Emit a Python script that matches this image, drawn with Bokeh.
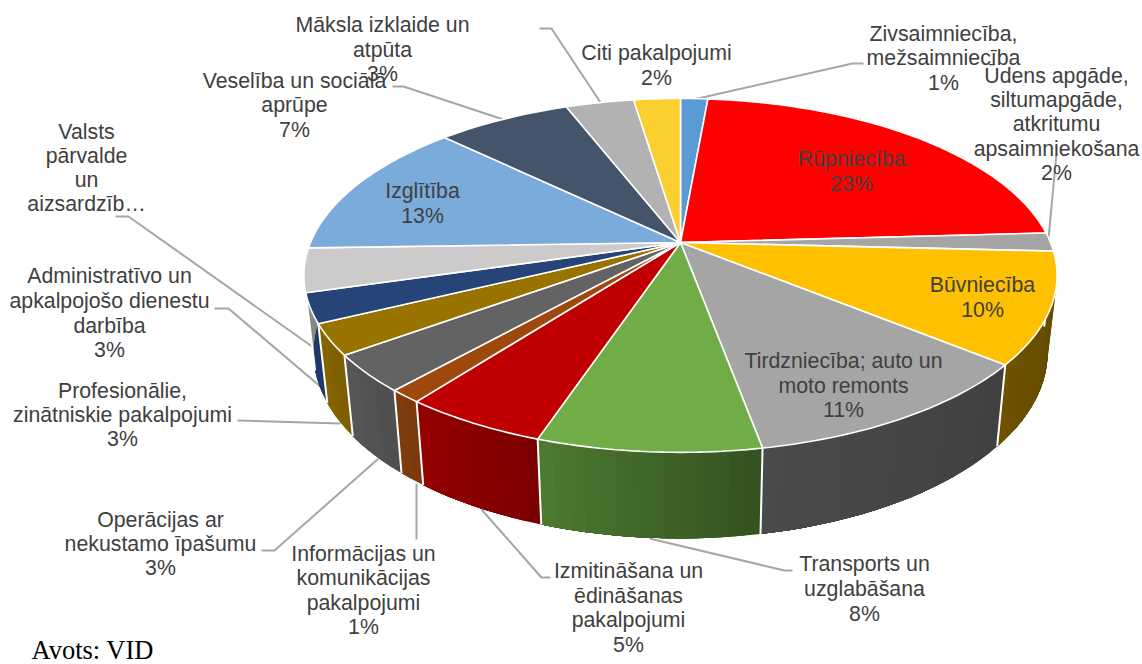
import math
from bokeh.plotting import figure
from bokeh.models import Range1d
from bokeh.core.properties import value
from bokeh.embed import file_html
from bokeh.resources import INLINE

# slice shares (clockwise from twelve o'clock)
categories = ["Zivsaimniecība, mežsaimniecība", "Rūpniecība", "Ūdens apgāde", "Būvniecība", "Tirdzniecība",
              "Transports", "Izmitināšana", "Informācijas", "Operācijas", "Profesionālie",
              "Administratīvo", "Valsts pārvalde", "Izglītība", "Veselība", "Māksla", "Citi"]
shares = [1.4, 22.7, 1.7, 10.1, 11.2, 8.05, 5.25, 1.2, 3.4, 2.8, 2.7, 4.0, 12.7, 6.9, 3.5, 2.4]
top_colors = ["#5B9BD5", "#FF0000", "#A5A5A5", "#FFC000", "#A5A5A5", "#70AD47", "#C00000", "#9E480E",
              "#636363", "#997300", "#264478", "#CCCACA", "#7AABDB", "#44546A", "#B2B2B2", "#FBCF30"]
side_left = ["#3a6a96", "#990000", "#636363", "#6e5200", "#4a4a4a", "#4e7a32", "#950000", "#803c0c",
             "#575757", "#866600", "#1f3f70", "#888888", "#4a6a90", "#303a4a", "#777777", "#9a8020"]
side_right = ["#3a6a96", "#880000", "#585858", "#5e4600", "#404040", "#33521f", "#7c0000", "#7a390b",
              "#4e4e4e", "#7c5e00", "#1c3966", "#888888", "#4a6a90", "#303a4a", "#777777", "#9a8020"]

# labels: (centre x, [(line, y), ...])
labels = [
    (943, [("Zivsaimniecība,", 33), ("mežsaimniecība", 57), ("1%", 82)]),
    (1056, [("Ūdens apgāde,", 75), ("siltumapgāde,", 99), ("atkritumu", 123), ("apsaimniekošana", 148), ("2%", 172)]),
    (656, [("Citi pakalpojumi", 52), ("2%", 77)]),
    (382, [("Māksla izklaide un", 24), ("atpūta", 49), ("3%", 73)]),
    (294, [("Veselība un sociālā", 80), ("aprūpe", 104), ("7%", 129)]),
    (86, [("Valsts", 131), ("pārvalde", 155), ("un", 179), ("aizsardzīb…", 203)]),
    (109, [("Administratīvo un", 275), ("apkalpojošo dienestu", 300), ("darbība", 325), ("3%", 349)]),
    (122, [("Profesionālie,", 390), ("zinātniskie pakalpojumi", 414), ("3%", 438)]),
    (160, [("Operācijas ar", 519), ("nekustamo īpašumu", 543), ("3%", 567)]),
    (363, [("Informācijas un", 553), ("komunikācijas", 577), ("pakalpojumi", 602), ("1%", 626)]),
    (628, [("Izmitināšana un", 570), ("ēdināšanas", 595), ("pakalpojumi", 619), ("5%", 644)]),
    (864, [("Transports un", 563), ("uzglabāšana", 588), ("8%", 613)]),
    (851, [("Rūpniecība", 158), ("23%", 183)]),
    (982, [("Būvniecība", 284), ("10%", 309)]),
    (843, [("Tirdzniecība; auto un", 360), ("moto remonts", 385), ("11%", 409)]),
    (422, [("Izglītība", 190), ("13%", 215)]),
]
leaders = [
    ([693, 852, 863], [99, 63, 63]),
    ([1048, 1056], [238, 153]),
    ([539, 551, 600], [28, 28, 102]),
    ([392, 403, 503], [86, 86, 119]),
    ([115, 128, 313], [216, 216, 347]),
    ([214, 228, 321], [308, 308, 387]),
    ([237, 340], [420, 423]),
    ([261, 274, 378], [550, 550, 458]),
    ([416, 416], [483, 539]),
    ([481, 541, 550], [509, 577, 577]),
    ([649, 784, 792], [538, 570, 570]),
]

CX, CY, A, B, K = 680.0, 242.0, 370.0, 170.8, 0.186
DEPTH, XS, YS = 75.0, 0.975, 1.053


def top(theta):
    u, v = math.sin(theta), -math.cos(theta)
    w = 1 - K * v
    return CX + A * u / w, CY + B * v / w


def bottom(theta):
    u, v = math.sin(theta), -math.cos(theta)
    w = 1 - K * v
    return CX + XS * A * u / w, CY + DEPTH + YS * B * v / w


def mix(c1, c2, t):
    a = [int(c1[i:i + 2], 16) for i in (1, 3, 5)]
    b = [int(c2[i:i + 2], 16) for i in (1, 3, 5)]
    return "#%02x%02x%02x" % tuple(round(p + (q - p) * t) for p, q in zip(a, b))


p = figure(width=1142, height=664, output_backend="svg", toolbar_location=None,
           x_range=Range1d(0, 1142), y_range=Range1d(664, 0), min_border=0,
           outline_line_color=None, background_fill_color="white")
p.xaxis.visible = False
p.yaxis.visible = False
p.grid.visible = False

p.multi_line([l[0] for l in leaders], [l[1] for l in leaders], line_color="#A6A6A6", line_width=2)

total = sum(shares)
edges = [0.0]
for s in shares:
    edges.append(edges[-1] + s / total * 2 * math.pi)

# sides: each band reaches the slice's far end, so later bands overpaint it without seams
sx, sy, sc = [], [], []
dx, dy = [], []
for i in range(len(shares)):
    t0, t1 = edges[i], edges[i + 1]
    n = max(1, int((t1 - t0) / math.radians(2.0)))
    for j in range(n):
        a0 = t0 + (t1 - t0) * j / n
        if -math.cos(a0) < -0.12 and -math.cos(t1) < -0.12:
            continue
        m = max(2, n - j + 1)
        arc = [a0 + (t1 - a0) * q / (m - 1) for q in range(m)]
        up = [top(a) for a in arc]
        lo = [bottom(a) for a in reversed(arc)]
        sx.append([q[0] for q in up + lo])
        sy.append([q[1] for q in up + lo])
        # clockwise on the front runs right to left
        sc.append(mix(side_right[i], side_left[i], (j + 0.5) / n))
    if -math.cos(t0) > 0.02:
        a, b = top(t0), bottom(t0)
        dx.append([a[0], b[0]])
        dy.append([a[1], b[1]])
p.patches(sx, sy, fill_color=sc, line_color=None)
p.multi_line(dx, dy, line_color="white", line_width=2)

# top face
tx, ty = [], []
for i in range(len(shares)):
    t0, t1 = edges[i], edges[i + 1]
    n = max(3, int((t1 - t0) / math.radians(1.0)))
    pts = [top(t0 + (t1 - t0) * j / n) for j in range(n + 1)]
    tx.append([CX] + [q[0] for q in pts])
    ty.append([CY] + [q[1] for q in pts])
p.patches(tx, ty, fill_color=top_colors, line_color="white", line_width=1.6)

for cx, lines in labels:
    p.text([cx] * len(lines), [l[1] for l in lines], text=[l[0] for l in lines],
           text_font=value("Liberation Sans"), text_font_size="21.3px", text_color="#404040",
           text_align="center", text_baseline="middle")

p.text([31], [649], text=["Avots: VID"], text_font=value("Liberation Serif"), text_font_size="26.5px",
       text_color="#000000", text_align="left", text_baseline="middle")

open("out.html", "w").write(file_html(p, INLINE))
